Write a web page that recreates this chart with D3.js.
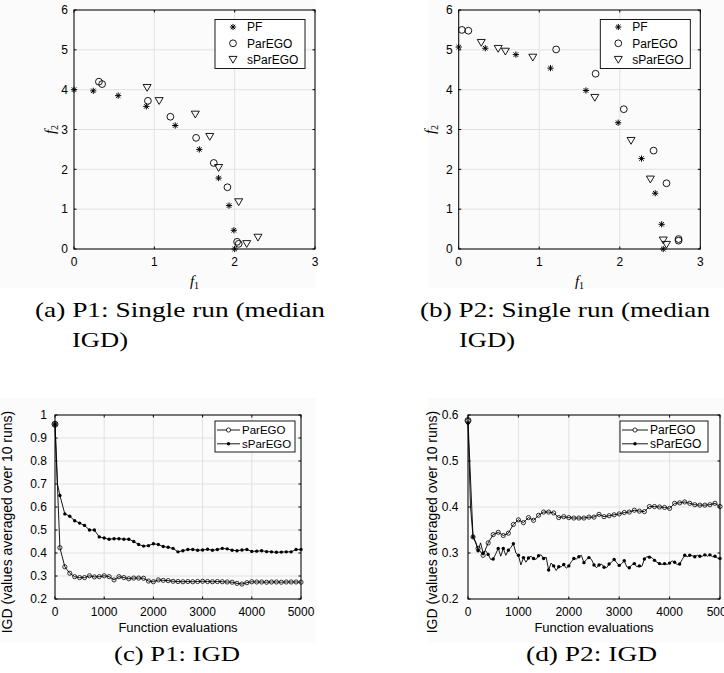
<!DOCTYPE html>
<html>
<head>
<meta charset="utf-8">
<script src="https://cdn.jsdelivr.net/npm/d3@7"></script>
<style>
body { margin: 0; background: #fff; }
svg { display: block; }
text { font-family: "Liberation Sans", Arial, sans-serif; fill: #000; }
.cap { font-family: "Liberation Serif", "Times New Roman", serif; }
</style>
</head>
<body>
<div id="chart"></div>
<script>
// ---- data ----
var f1Ticks = [0, 1, 2, 3];
var f2Ticks = [0, 1, 2, 3, 4, 5, 6];
var evalTicks = [0, 1000, 2000, 3000, 4000, 5000];
var igdTicksP1 = [0.2, 0.3, 0.4, 0.5, 0.6, 0.7, 0.8, 0.9, 1];
var igdTicksP2 = [0.2, 0.3, 0.4, 0.5, 0.6];

// P1 single run, [f1, f2]
var p1PF = [[0, 4.0], [0.24, 3.97], [0.55, 3.85], [0.90, 3.58], [1.26, 3.10], [1.56, 2.50],
    [1.80, 1.78], [1.93, 1.09], [1.99, 0.47], [2.0, 0.0]];
var p1ParEGO = [[0.31, 4.20], [0.35, 4.14], [0.92, 3.72], [1.20, 3.32], [1.52, 2.79], [1.74, 2.16],
    [1.91, 1.55], [2.03, 0.18], [2.05, 0.13]];
var p1sParEGO = [[0.91, 4.05], [1.06, 3.72], [1.51, 3.38], [1.69, 2.82], [1.80, 2.04], [2.05, 1.18],
    [2.15, 0.13], [2.29, 0.29]];

// P2 single run, [f1, f2]
var p2PF = [[0.0, 5.07], [0.33, 5.04], [0.71, 4.88], [1.14, 4.54], [1.58, 3.98], [1.98, 3.17],
    [2.27, 2.27], [2.44, 1.40], [2.52, 0.62], [2.54, 0.0]];
var p2ParEGO = [[0.04, 5.50], [0.12, 5.48], [1.21, 5.01], [1.70, 4.40], [2.05, 3.51], [2.42, 2.47],
    [2.58, 1.65], [2.73, 0.25], [2.73, 0.21]];
var p2sParEGO = [[0.28, 5.18], [0.49, 5.03], [0.58, 4.96], [0.92, 4.81], [1.69, 3.80], [2.14, 2.72],
    [2.38, 1.75], [2.54, 0.22], [2.58, 0.11]];

// IGD curves, one value every 100 evaluations (P2 sParEGO every 50)
var evals100 = d3.range(0, 5001, 100);
var evals50 = d3.range(0, 5001, 50);

var igdP1ParEGO = [0.96, 0.423, 0.340, 0.312, 0.297, 0.293, 0.293, 0.301, 0.296, 0.297,
    0.301, 0.297, 0.283, 0.297, 0.293, 0.288, 0.291, 0.291, 0.290, 0.278,
    0.275, 0.283, 0.281, 0.280, 0.277, 0.276, 0.275, 0.276, 0.275, 0.276,
    0.277, 0.276, 0.275, 0.276, 0.275, 0.274, 0.273, 0.268, 0.265, 0.271,
    0.275, 0.274, 0.274, 0.273, 0.274, 0.274, 0.273, 0.274, 0.274, 0.274, 0.273];
var igdP1sParEGO = [0.96, 0.65, 0.57, 0.56, 0.54, 0.53, 0.52, 0.50, 0.50, 0.47,
    0.465, 0.46, 0.462, 0.462, 0.46, 0.46, 0.45, 0.437, 0.43, 0.432,
    0.44, 0.437, 0.428, 0.425, 0.42, 0.405, 0.41, 0.415, 0.415, 0.412,
    0.413, 0.416, 0.412, 0.415, 0.42, 0.418, 0.412, 0.41, 0.413, 0.415,
    0.407, 0.408, 0.41, 0.406, 0.405, 0.403, 0.404, 0.405, 0.405, 0.415, 0.415];
var igdP1sParEGOEarly = [[50, 0.70]];

var igdP2ParEGO = [0.588, 0.335, 0.31, 0.295, 0.322, 0.34, 0.345, 0.338, 0.343, 0.362,
    0.372, 0.366, 0.377, 0.371, 0.382, 0.389, 0.389, 0.387, 0.377, 0.379,
    0.377, 0.376, 0.376, 0.376, 0.378, 0.378, 0.384, 0.379, 0.381, 0.383,
    0.385, 0.388, 0.389, 0.393, 0.391, 0.39, 0.401, 0.401, 0.4, 0.399,
    0.397, 0.408, 0.409, 0.411, 0.408, 0.405, 0.404, 0.404, 0.405, 0.408, 0.401];
var igdP2sParEGO = [0.582, 0.40, 0.335, 0.325, 0.305, 0.322, 0.300, 0.305, 0.297, 0.286,
    0.287, 0.298, 0.310, 0.293, 0.310, 0.295, 0.306, 0.312, 0.320, 0.300,
    0.295, 0.274, 0.290, 0.280, 0.289, 0.293, 0.288, 0.286, 0.294, 0.296,
    0.288, 0.291, 0.263, 0.278, 0.272, 0.262, 0.270, 0.270, 0.275, 0.267,
    0.272, 0.281, 0.288, 0.287, 0.292, 0.295, 0.279, 0.286, 0.290, 0.286,
    0.274, 0.268, 0.274, 0.276, 0.269, 0.268, 0.276, 0.280, 0.286, 0.279,
    0.273, 0.277, 0.283, 0.270, 0.268, 0.274, 0.277, 0.270, 0.272, 0.271,
    0.287, 0.292, 0.291, 0.290, 0.284, 0.280, 0.277, 0.275, 0.277, 0.275,
    0.278, 0.283, 0.280, 0.275, 0.276, 0.286, 0.295, 0.292, 0.295, 0.294,
    0.292, 0.295, 0.293, 0.293, 0.296, 0.293, 0.296, 0.292, 0.293, 0.289, 0.288];

// ---- drawing ----
var W = 724, H = 673;
var svg = d3.select("#chart").append("svg").attr("width", W).attr("height", H);

// faint export backgrounds of the four figures
[[0, 0, 317, 288], [427, 0, 297, 288], [0, 398, 317, 245], [427, 398, 297, 245]].forEach(function(r) {
    svg.append("rect").attr("x", r[0]).attr("y", r[1]).attr("width", r[2]).attr("height", r[3]).attr("fill", "#fbfbfb");
});

var gridColor = "#e2e2e2";

function starPath(r) {
    var d = r * 0.72;
    return "M" + (-r) + ",0L" + r + ",0M0," + (-r) + "L0," + r +
        "M" + (-d) + "," + (-d) + "L" + d + "," + d + "M" + (-d) + "," + d + "L" + d + "," + (-d);
}
var triPath = "M-4,-3.2L4,-3.2L0,3.6Z";

function drawGrid(g, x, y, xTicks, yTicks) {
    var x0 = x.range()[0], x1 = x.range()[1], y0 = y.range()[0], y1 = y.range()[1];
    g.append("g").selectAll("line").data(xTicks).join("line")
        .attr("x1", function(d) { return x(d); }).attr("x2", function(d) { return x(d); })
        .attr("y1", y0).attr("y2", y1).attr("stroke", gridColor).attr("stroke-width", 1);
    g.append("g").selectAll("line").data(yTicks).join("line")
        .attr("y1", function(d) { return y(d); }).attr("y2", function(d) { return y(d); })
        .attr("x1", x0).attr("x2", x1).attr("stroke", gridColor).attr("stroke-width", 1);
}

function drawBox(g, x, y, xTicks, yTicks, fontSize, yFmt, tickGapY) {
    var x0 = x.range()[0], x1 = x.range()[1], y0 = y.range()[0], y1 = y.range()[1];
    var tl = 2.5;
    g.append("rect").attr("x", x0).attr("y", y1).attr("width", x1 - x0).attr("height", y0 - y1)
        .attr("fill", "none").attr("stroke", "#000").attr("stroke-width", 1);
    xTicks.forEach(function(t) {
        g.append("line").attr("x1", x(t)).attr("x2", x(t)).attr("y1", y0).attr("y2", y0 - tl).attr("stroke", "#000");
        g.append("line").attr("x1", x(t)).attr("x2", x(t)).attr("y1", y1).attr("y2", y1 + tl).attr("stroke", "#000");
        g.append("text").text(t).attr("x", x(t)).attr("y", y0 + 16.5)
            .attr("text-anchor", "middle").style("font-size", fontSize + "px");
    });
    yTicks.forEach(function(t) {
        g.append("line").attr("y1", y(t)).attr("y2", y(t)).attr("x1", x0).attr("x2", x0 + tl).attr("stroke", "#000");
        g.append("line").attr("y1", y(t)).attr("y2", y(t)).attr("x1", x1).attr("x2", x1 - tl).attr("stroke", "#000");
        g.append("text").text(yFmt(t)).attr("x", x0 - tickGapY).attr("y", y(t)).attr("dy", "0.36em")
            .attr("text-anchor", "end").style("font-size", fontSize + "px");
    });
}

function italicLabel(g, main, sub, x, y, rotate) {
    var t = g.append("text").attr("class", "cap").attr("text-anchor", "middle")
        .attr("transform", "translate(" + x + "," + y + ")" + (rotate ? " rotate(-90)" : ""))
        .style("font-size", "15px");
    t.append("tspan").text(main).style("font-style", "italic");
    t.append("tspan").text(sub).attr("dy", 3).style("font-size", "10px");
}

function drawScatter(spec) {
    var g = svg.append("g");
    var x = d3.scaleLinear().domain([0, 3]).range([spec.left, spec.right]);
    var y = d3.scaleLinear().domain([0, 6]).range([spec.bottom, spec.top]);
    drawGrid(g, x, y, f1Ticks, f2Ticks);

    g.append("g").selectAll("path").data(spec.pf).join("path")
        .attr("d", starPath(3.1)).attr("stroke", "#000").attr("stroke-width", 1)
        .attr("transform", function(d) { return "translate(" + x(d[0]) + "," + y(d[1]) + ")"; });
    g.append("g").selectAll("circle").data(spec.par).join("circle")
        .attr("cx", function(d) { return x(d[0]); }).attr("cy", function(d) { return y(d[1]); })
        .attr("r", 3.4).attr("fill", "none").attr("stroke", "#000").attr("stroke-width", 0.9);
    g.append("g").selectAll("path").data(spec.spar).join("path")
        .attr("d", triPath).attr("fill", "none").attr("stroke", "#000").attr("stroke-width", 0.9)
        .attr("transform", function(d) { return "translate(" + x(d[0]) + "," + y(d[1]) + ")"; });

    drawBox(g, x, y, f1Ticks, f2Ticks, 12, String, 6);
    italicLabel(g, "f", "1", (spec.left + spec.right) / 2, 286, false);
    italicLabel(g, "f", "2", spec.f2x, (spec.top + spec.bottom) / 2, true);

    // legend
    var L = spec.legend;
    g.append("rect").attr("x", L.x).attr("y", L.y).attr("width", 90).attr("height", 49)
        .attr("fill", "#fff").attr("stroke", "#000").attr("stroke-width", 0.9);
    var rows = ["PF", "ParEGO", "sParEGO"];
    rows.forEach(function(name, i) {
        var cy = L.y + 7.5 + i * 16.3, cx = L.x + 18;
        if (i === 0) g.append("path").attr("d", starPath(3.1)).attr("stroke", "#000").attr("transform", "translate(" + cx + "," + cy + ")");
        if (i === 1) g.append("circle").attr("cx", cx).attr("cy", cy).attr("r", 3.4).attr("fill", "none").attr("stroke", "#000").attr("stroke-width", 0.9);
        if (i === 2) g.append("path").attr("d", triPath).attr("fill", "none").attr("stroke", "#000").attr("stroke-width", 0.9).attr("transform", "translate(" + cx + "," + cy + ")");
        g.append("text").text(name).attr("x", L.x + 32).attr("y", cy).attr("dy", "0.36em").style("font-size", "12px");
    });
}

function drawIGD(spec) {
    var g = svg.append("g");
    var x = d3.scaleLinear().domain([0, 5000]).range([spec.left, spec.right]);
    var y = d3.scaleLinear().domain(spec.yDomain).range([spec.bottom, spec.top]);
    drawGrid(g, x, y, evalTicks, spec.yTicks);

    var line = d3.line().x(function(d) { return x(d[0]); }).y(function(d) { return y(d[1]); });
    spec.series.forEach(function(s) {
        g.append("path").datum(s.pts).attr("d", line).attr("fill", "none")
            .attr("stroke", "#000").attr("stroke-width", 0.9);
        var marks = s.pts.filter(function(d) { return d[0] % 100 === 0; });
        if (s.marker === "o") {
            g.append("g").selectAll("circle").data(marks).join("circle")
                .attr("cx", function(d) { return x(d[0]); }).attr("cy", function(d) { return y(d[1]); })
                .attr("r", 2.1).attr("fill", "none").attr("stroke", "#000").attr("stroke-width", 0.8);
        } else {
            g.append("g").selectAll("circle").data(marks).join("circle")
                .attr("cx", function(d) { return x(d[0]); }).attr("cy", function(d) { return y(d[1]); })
                .attr("r", 1.7).attr("fill", "#000");
        }
    });
    // the shared start point looks a bit bigger
    g.append("circle").attr("cx", x(0)).attr("cy", y(spec.series[0].pts[0][1])).attr("r", 3)
        .attr("fill", "none").attr("stroke", "#000").attr("stroke-width", 0.9);

    drawBox(g, x, y, evalTicks, spec.yTicks, 12, String, spec.tickGapY);
    g.append("text").text("Function evaluations").attr("x", (spec.left + spec.right) / 2).attr("y", 632)
        .attr("text-anchor", "middle").style("font-size", "13px");
    g.append("text").text("IGD (values averaged over 10 runs)").attr("text-anchor", "middle")
        .attr("transform", "translate(" + spec.ylabX + ",522) rotate(-90)").style("font-size", "14px");

    var L = spec.legend;
    g.append("rect").attr("x", L.x).attr("y", L.y).attr("width", L.w).attr("height", 31)
        .attr("fill", "#fff").attr("stroke", "#000").attr("stroke-width", 0.9);
    spec.series.forEach(function(s, i) {
        var cy = L.y + 9 + i * 13.8;
        g.append("line").attr("x1", L.x + 2).attr("x2", L.x + L.seg).attr("y1", cy).attr("y2", cy).attr("stroke", "#000").attr("stroke-width", 0.9);
        if (s.marker === "o") g.append("circle").attr("cx", L.x + 2 + (L.seg - 2) / 2).attr("cy", cy).attr("r", 2.1).attr("fill", "#fff").attr("stroke", "#000").attr("stroke-width", 0.8);
        else g.append("circle").attr("cx", L.x + 2 + (L.seg - 2) / 2).attr("cy", cy).attr("r", 1.7).attr("fill", "#000");
        g.append("text").text(s.name).attr("x", L.x + L.seg + 2).attr("y", cy).attr("dy", "0.36em").style("font-size", L.fs + "px");
    });
}

function zipSeries(xs, ys) { return xs.map(function(v, i) { return [v, ys[i]]; }); }

drawScatter({left: 74, right: 315, top: 10, bottom: 249, pf: p1PF, par: p1ParEGO, spar: p1sParEGO,
    f2x: 55, legend: {x: 215, y: 19.5}});
drawScatter({left: 458.7, right: 700.3, top: 10, bottom: 249, pf: p2PF, par: p2ParEGO, spar: p2sParEGO,
    f2x: 435, legend: {x: 600.3, y: 19.5}});

var p1sPts = zipSeries(evals100, igdP1sParEGO).concat(igdP1sParEGOEarly).sort(function(a, b) { return a[0] - b[0]; });
drawIGD({left: 55, right: 301, top: 415, bottom: 599, yDomain: [0.2, 1], yTicks: igdTicksP1, tickGapY: 8,
    ylabX: 12,
    series: [{name: "ParEGO", marker: "o", pts: zipSeries(evals100, igdP1ParEGO)},
             {name: "sParEGO", marker: ".", pts: p1sPts}],
    legend: {x: 215, y: 421, w: 80, seg: 25, fs: 11.5}});
drawIGD({left: 468, right: 720, top: 415, bottom: 599, yDomain: [0.2, 0.6], yTicks: igdTicksP2, tickGapY: 9.5,
    ylabX: 437,
    series: [{name: "ParEGO", marker: "o", pts: zipSeries(evals100, igdP2ParEGO)},
             {name: "sParEGO", marker: ".", pts: zipSeries(evals50, igdP2sParEGO)}],
    legend: {x: 620, y: 421, w: 88, seg: 28, fs: 12}});

// sub-figure captions
function caption(str, x, y, w) {
    svg.append("text").attr("class", "cap").text(str).attr("x", x).attr("y", y)
        .attr("textLength", w).attr("lengthAdjust", "spacingAndGlyphs").style("font-size", "21px");
}
caption("(a) P1: Single run (median", 35, 317, 290);
caption("IGD)", 72, 347, 56);
caption("(b) P2: Single run (median", 420, 317, 290);
caption("IGD)", 459, 347, 56);
caption("(c) P1: IGD", 114, 661, 126);
caption("(d) P2: IGD", 526, 661, 131);
</script>
</body>
</html>
